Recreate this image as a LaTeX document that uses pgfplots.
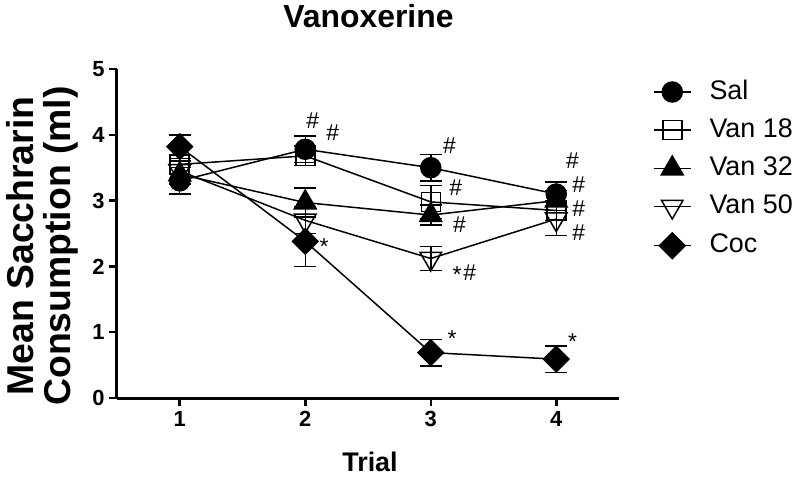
\documentclass[border=0pt]{standalone}
\usepackage{fontspec}
\setmainfont{Liberation Sans}
\usepackage{pgfplots}
\pgfplotsset{compat=1.18}
\begin{document}
\begin{tikzpicture}
\path[use as bounding box] (-117bp,-83bp) rectangle (683bp,398bp);
\begin{axis}[
  at={(0,0)}, anchor=south west,
  scale only axis, width=502bp, height=329bp,
  xmin=0.5, xmax=4.5, ymin=0, ymax=5,
  xtick={1,2,3,4}, ytick={0,1,2,3,4,5},
  axis x line*=bottom, axis y line*=left,
  axis line style={line width=3bp, -},
  tick style={line width=2.5bp, black},
  major tick length=8bp, tick align=outside,
  tick label style={font=\fontsize{22}{24}\selectfont\bfseries},
  xticklabel style={yshift=-2bp},
  yticklabel style={xshift=-1bp},
  /pgf/number format/assume math mode=true,
  clip=false,
  every axis plot/.append style={line width=1.5bp, black},
  error bars/y dir=both, error bars/y explicit,
  error bars/error bar style={line width=1.5bp, black},
  error bars/error mark options={rotate=90, mark size=11bp, line width=1.5bp, black},
  legend image code/.code={\draw[mark repeat=2,mark phase=2,#1] plot coordinates {(0bp,0bp)(18.5bp,0bp)(37bp,0bp)};},
  legend style={draw=none, fill=none, inner sep=0pt, outer sep=0pt,
    at={(1,1)}, anchor=north west, xshift=34bp, yshift=-11bp,
    font=\fontsize{27}{30}\selectfont, row sep=14bp, column sep=18bp,
    nodes={inner sep=0pt, text height=19bp, text depth=5bp},
    cells={anchor=west}},
]
\addplot[mark=*, mark size=10bp, mark options={fill=black}] coordinates {
 (1,3.3) +- (0,0.2) (2,3.78) +- (0,0.2) (3,3.5) +- (0,0.2) (4,3.1) +- (0,0.18)};
\addlegendentry{Sal}
\addplot[mark=square, mark size=9.5bp, mark options={fill=white, line width=1.5bp}] coordinates {
 (1,3.55) +- (0,0.15) (2,3.68) +- (0,0.15) (3,2.98) +- (0,0.25) (4,2.85) +- (0,0.15)};
\addlegendentry{Van 18}
\addplot[mark=triangle*, mark size=12.5bp, mark options={fill=black}] coordinates {
 (1,3.4) +- (0,0.15) (2,2.97) +- (0,0.22) (3,2.78) +- (0,0.15) (4,3.0) +- (0,0.15)};
\addlegendentry{Van 32}
\addplot[mark=triangle, mark size=12.5bp, mark options={rotate=180, fill=white, line width=1.5bp}] coordinates {
 (1,3.45) +- (0,0.15) (2,2.7) +- (0,0.2) (3,2.12) +- (0,0.18) (4,2.72) +- (0,0.25)};
\addlegendentry{Van 50}
\addplot[mark=square*, mark size=9bp, mark options={rotate=45, fill=black}] coordinates {
 (1,3.82) +- (0,0.18) (2,2.38) +- (0,0.38) (3,0.69) +- (0,0.2) (4,0.59) +- (0,0.2)};
\addlegendentry{Coc}
\begin{scope}[every node/.style={font=\fontsize{23}{25}\selectfont, inner sep=0pt}]
\node at (axis cs:2.06,4.22) {\#};
\node at (axis cs:2.22,4.03) {\#};
\node at (axis cs:2.15,2.30) {*};
\node at (axis cs:3.15,3.84) {\#};
\node at (axis cs:3.20,3.19) {\#};
\node at (axis cs:3.23,2.64) {\#};
\node at (axis cs:3.21,1.88) {*};
\node at (axis cs:3.31,1.91) {\#};
\node at (axis cs:3.17,0.90) {*};
\node at (axis cs:4.13,3.60) {\#};
\node at (axis cs:4.18,3.24) {\#};
\node at (axis cs:4.18,2.88) {\#};
\node at (axis cs:4.18,2.52) {\#};
\node at (axis cs:4.13,0.85) {*};
\end{scope}
\end{axis}
\node[font=\fontsize{32}{34}\selectfont\bfseries, anchor=base] at (251.5bp,370bp) {Vanoxerine};
\node[font=\fontsize{27}{30}\selectfont\bfseries] at (253bp,-64bp) {Trial};
\node[font=\fontsize{37.5}{37}\selectfont\bfseries, rotate=90, align=center] at (-75bp,152bp) {Mean Sacchrarin\\Consumption (ml)};
\end{tikzpicture}
\end{document}
